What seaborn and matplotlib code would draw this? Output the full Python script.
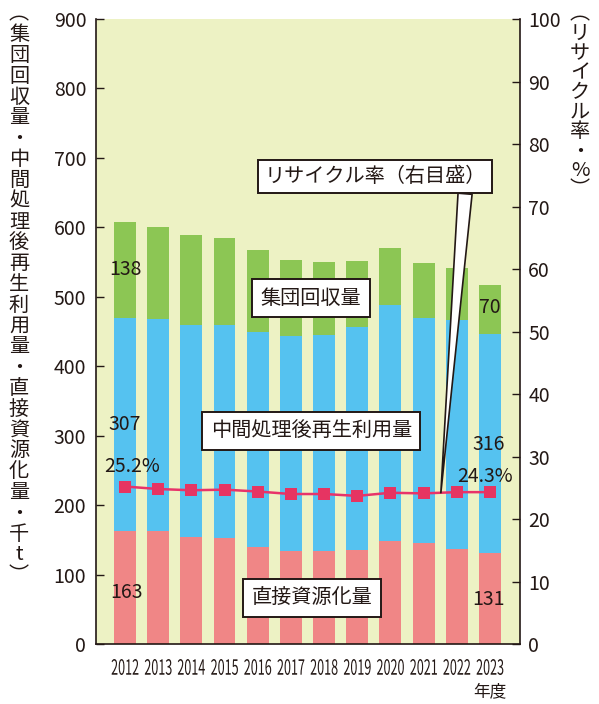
import numpy as np
import matplotlib
matplotlib.use("Agg")
from matplotlib import pyplot as plt
from matplotlib.font_manager import FontProperties
from matplotlib.textpath import TextPath
from matplotlib.patches import PathPatch
from matplotlib.transforms import Affine2D, ScaledTranslation
import seaborn as sns

# data (千t, %)
years = ["2012", "2013", "2014", "2015", "2016", "2017", "2018", "2019", "2020", "2021", "2022", "2023"]
direct = [163, 163, 154, 152, 140, 134, 134, 136, 149, 146, 137, 131]
intermediate = [307, 305, 305, 308, 310, 310, 311, 321, 339, 324, 330, 316]
group = [138, 133, 130, 124, 118, 109, 105, 95, 82, 79, 75, 70]
rate = [25.2, 24.8, 24.6, 24.7, 24.4, 24.0, 24.0, 23.7, 24.2, 24.1, 24.3, 24.3]

BG = "#EDF2C4"
GREEN = "#8CC654"
BLUE = "#55C2F0"
RED = "#F08686"
LINE = "#E8336A"
INK = "#231815"

sns.set_style("ticks")
plt.rcParams["font.family"] = ["Noto Sans CJK JP", "DejaVu Sans"]

fig = plt.figure(figsize=(5.99, 7.04), dpi=100)
ax = fig.add_axes([0.1603, 0.0852, 0.8681 - 0.1603, 0.9730 - 0.0852])
ax.set_facecolor(BG)

low = np.array(direct)
mid = low + np.array(intermediate)
top = mid + np.array(group)

# stacked bars: tallest first
sns.barplot(x=years, y=top, color=GREEN, width=0.66, saturation=1, ax=ax, order=years)
sns.barplot(x=years, y=mid, color=BLUE, width=0.66, saturation=1, ax=ax, order=years)
sns.barplot(x=years, y=low, color=RED, width=0.66, saturation=1, ax=ax, order=years)
for p in ax.patches:
    p.set_linewidth(0)

ax.set_xlim(-0.874, 11.905)
ax.set_ylim(0, 900)
ax.set_yticks(range(0, 901, 100))
ax.set_xlabel("")
ax.set_ylabel("")
ax.tick_params(axis="y", direction="in", length=6, width=1, pad=7, labelsize=14, colors=INK)
ax.tick_params(axis="x", length=0, labelbottom=False)
for s in ["left", "bottom"]:
    ax.spines[s].set_color(INK)
    ax.spines[s].set_linewidth(1.2)
ax.spines["top"].set_visible(False)
ax.spines["right"].set_visible(False)

# condensed year labels (the original uses a narrow face)
yprop = FontProperties(family="Noto Sans CJK JP")
for i, yr in enumerate(years):
    tp = TextPath((0, 0), yr, size=21, prop=yprop)
    ext = tp.get_extents()
    tr = (Affine2D().translate(-(ext.x0 + ext.x1) / 2, -(ext.y0 + ext.y1) / 2).scale(0.6, 1.0)
          + ScaledTranslation(i, 0, ax.transData)
          + ScaledTranslation(0, -23 / 100, fig.dpi_scale_trans))
    ax.add_artist(PathPatch(tp, transform=tr, fc=INK, lw=0, clip_on=False))

ax2 = ax.twinx()
sns.lineplot(x=np.arange(len(years)), y=rate, ax=ax2, color=LINE, linewidth=1.8,
             marker="s", markersize=8, markeredgewidth=0, markerfacecolor="#E63462")
ax2.set_ylim(0, 100)
ax2.set_yticks(range(0, 101, 10))
ax2.set_ylabel("")
ax2.tick_params(axis="y", direction="in", length=6, width=1, pad=6, labelsize=14, colors=INK)
ax2.spines["top"].set_visible(False)
ax2.spines["left"].set_visible(False)
ax2.spines["bottom"].set_visible(False)
ax2.spines["right"].set_color(INK)
ax2.spines["right"].set_linewidth(1.2)

# value labels
lab_kw = dict(fontsize=14, color=INK, ha="center", va="center")
ax.text(0, 539, "138", **lab_kw)
ax.text(0, 316, "307", **lab_kw)
ax.text(0.22, 255, "25.2%", **lab_kw)
ax.text(0.03, 74, "163", **lab_kw)
ax.text(11.0, 484, "70", **lab_kw)
ax.text(10.97, 287, "316", **lab_kw)
ax.text(10.85, 241, "24.3%", **lab_kw)
ax.text(10.97, 64, "131", **lab_kw)

# boxed series names
box = dict(boxstyle="square,pad=0.42", fc="white", ec=INK, lw=1.4)
ax.text(5.61, 498, "集団回収量", fontsize=14.5, color=INK, ha="center", va="center", bbox=box)
ax.text(5.61, 307, "中間処理後再生利用量", fontsize=14.5, color=INK, ha="center", va="center", bbox=box)
ax.text(5.64, 66, "直接資源化量", fontsize=14.5, color=INK, ha="center", va="center", bbox=box)

ax2.annotate("リサイクル率（右目盛）", xy=(9.52, 24.2), xytext=(7.53, 74.8),
             fontsize=14.5, color=INK, ha="center", va="center", zorder=5,
             bbox=dict(boxstyle="square,pad=0.3", fc="white", ec=INK, lw=1.4),
             arrowprops=dict(arrowstyle="wedge,tail_width=0.7,shrink_factor=0.5", fc="white",
                             ec=INK, lw=1.2, relpos=(0.91, 0.0), shrinkA=0, shrinkB=0))

ax.annotate("年度", xy=(11, -0.077), xycoords=("data", "axes fraction"),
            fontsize=12, color=INK, ha="center", va="center")


def vertical_label(x, y_top, text, step, size):
    # stack characters top to bottom (figure pixels from top)
    for i, ch in enumerate(text):
        fig.text(x / 599, 1 - (y_top + i * step) / 704, ch, fontsize=size, color=INK,
                 ha="center", va="center")


vertical_label(19, 14, "︵集団回収量・中間処理後再生利用量・直接資源化量・千t︶", 20.8, 14.5)
vertical_label(580, 14, "︵リサイクル率・%︶", 19.6, 14.5)

fig.savefig("out.png", dpi=100)
